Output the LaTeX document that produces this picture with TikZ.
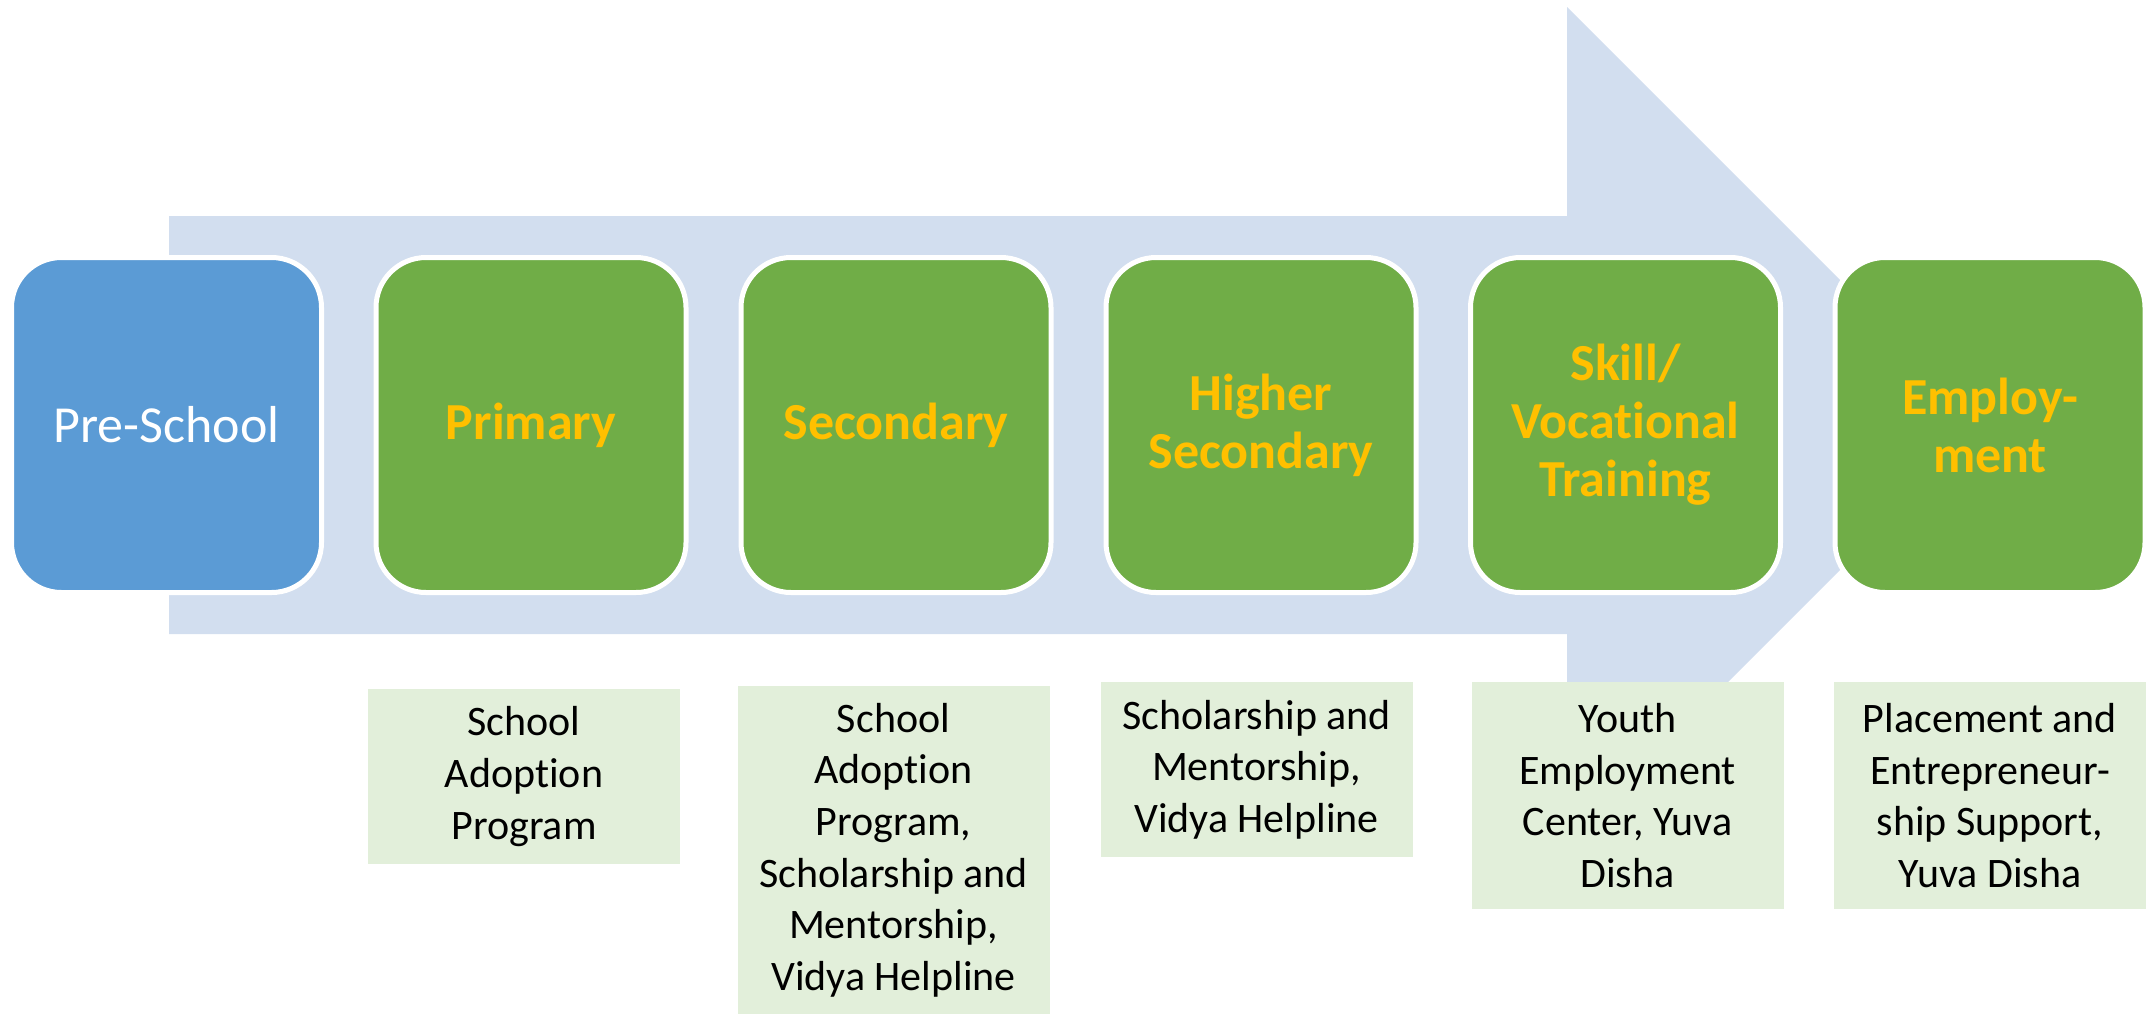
\documentclass[tikz,border=0pt]{standalone}
\usepackage{fontspec}
\setmainfont[RawFeature={-liga}]{Carlito}
\definecolor{arrowblue}{HTML}{D2DEEF}
\definecolor{preblue}{HTML}{5B9BD5}
\definecolor{stgreen}{HTML}{70AD47}
\definecolor{gold}{HTML}{FFC000}
\definecolor{pale}{HTML}{E2EFDA}
\begin{document}
\begin{tikzpicture}[x=0.5pt,y=-0.5pt,
  stage/.style={draw=white, line width=2.5pt, rounded corners=25pt,
    minimum width=155pt, minimum height=167.5pt, inner sep=0pt,
    align=center, fill=stgreen, text=gold,
    font=\fontsize{26}{29}\selectfont\bfseries},
  prog/.style={fill=pale, minimum width=156pt, inner sep=0pt,
    align=center, text=black, font=\fontsize{21}{25.8}\selectfont}]
\useasboundingbox (0,0) rectangle (2153,1014);
% big arrow
\fill[arrowblue] (169,216) -- (1567,216) -- (1567,7) -- (1985,425)
  -- (1567,843) -- (1567,634) -- (169,634) -- cycle;
% stages
\node[stage, fill=preblue, text=white, font=\fontsize{26}{29}\selectfont] (pre) at (166.5,425) {Pre-School};
\node[stage] (pri) at (531,425) {Primary};
\node[stage] (sec) at (896,425) {Secondary};
\node[stage] (hsec) at (1261,425) {Higher\\Secondary};
\node[stage] (skill) at (1625.5,425) {Skill/\\Vocational\\Training};
\node[stage] (emp) at (1990,425) {Employ-\\ment};
% programs
\node[prog, minimum height=87.5pt] (p1) at (524,776.5) {School\\Adoption\\Program};
\node[prog, minimum height=164pt] (p2) at (893.5,850) {School\\Adoption\\Program,\\Scholarship and\\Mentorship,\\Vidya Helpline};
\node[prog, minimum height=87.5pt] (p3) at (1256.5,769.5) {Scholarship and\\Mentorship,\\Vidya Helpline};
\node[prog, minimum height=113.5pt] (p4) at (1627.5,795.5) {Youth\\Employment\\Center, Yuva\\Disha};
\node[prog, minimum height=113.5pt] (p5) at (1990,795.5) {Placement and\\Entrepreneur-\\ship Support,\\Yuva Disha};
\end{tikzpicture}
\end{document}
